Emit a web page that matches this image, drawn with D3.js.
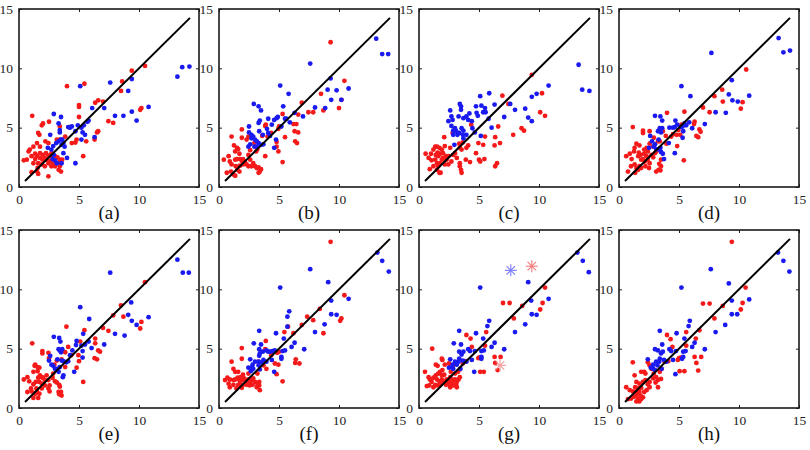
<!DOCTYPE html>
<html><head><meta charset="utf-8">
<script src="https://cdn.jsdelivr.net/npm/d3@7"></script>
<style>body{margin:0;background:#fff} text{font-family:"Liberation Serif","Times New Roman","DejaVu Serif",serif !important;}</style>
</head><body><svg id="c" width="810" height="450"></svg>
<script>
const panelLabels = ["(a)","(b)","(c)","(d)","(e)","(f)","(g)","(h)"];
const tickValues = [0,5,10,15];
const lineRange = [0.5,14.25];

const blueA=[[14.2,10.15],[13.6,10.1],[13.2,9.3],[9.4,9.1],[9.1,8.1],[7.6,8.8],[5.1,8.5],[10.8,6.75],[9.8,5.6],[9.4,6.35],[8.7,6.0],[8.0,6.0],[7.1,6.65],[6.1,6.65],[6.3,4.2],[5.8,5.6],[5.7,5.5],[5.4,5.2],[5.3,4.6],[5.5,4.4],[5.2,5.0],[4.9,5.2],[4.7,4.7],[4.4,5.1],[4.25,5.0],[4.1,5.05],[5.2,4.0],[4.7,2.0],[2.9,6.15],[3.5,5.9],[3.3,5.35],[3.4,4.8],[3.4,4.6],[3.6,4.0],[3.5,4.0],[3.3,3.85],[3.1,3.7],[3.7,3.7],[3.55,3.55],[3.8,3.4],[2.85,3.45],[2.7,3.15],[2.4,3.3],[2.6,4.4],[2.9,2.7],[2.8,2.35],[3.0,2.25],[3.55,2.0],[4.0,2.45],[3.7,2.85],[3.15,2.0]];
const redA=[[10.5,10.2],[9.4,9.8],[8.6,8.9],[4.0,8.5],[5.45,8.7],[8.5,8.1],[5.0,6.9],[5.0,6.75],[6.6,7.3],[7.0,7.2],[6.35,7.1],[10.2,6.65],[10.1,6.5],[7.45,5.55],[7.85,5.4],[6.6,4.7],[6.5,4.6],[6.3,4.0],[5.6,3.85],[5.0,5.9],[4.8,4.0],[4.7,3.75],[4.4,3.7],[5.35,2.6],[3.85,4.25],[4.2,5.05],[3.4,5.1],[3.4,4.0],[3.15,4.0],[1.1,6.0],[2.0,5.35],[1.9,5.2],[2.5,5.5],[1.6,4.55],[1.7,4.4],[1.5,3.7],[1.75,3.4],[2.2,3.85],[2.45,3.7],[1.2,3.4],[0.9,3.15],[0.8,3.0],[0.65,2.3],[0.4,2.25],[1.05,2.6],[1.35,2.8],[1.5,2.6],[1.75,2.85],[2.0,2.7],[2.25,2.85],[2.45,2.65],[2.6,2.6],[2.7,2.85],[3.0,2.6],[3.2,2.5],[3.4,2.3],[3.6,2.3],[3.35,2.0],[3.4,1.75],[3.3,1.45],[3.5,1.3],[3.0,1.75],[2.45,2.0],[2.6,2.2],[2.45,0.9],[2.15,1.75],[1.9,1.9],[1.6,2.0],[1.55,1.6],[1.5,1.3],[1.6,1.1],[1.05,1.25],[1.95,2.3],[2.15,2.45],[2.3,2.3],[1.75,2.45],[1.2,2.0],[1.35,2.35],[2.7,1.75],[2.85,2.0]];

const blueB=[[13.1,12.5],[13.6,11.2],[14.1,11.2],[7.6,10.4],[9.3,9.15],[9.05,8.2],[9.8,8.15],[10.8,8.3],[9.35,7.35],[10.2,7.35],[5.1,8.55],[5.8,7.85],[8.0,6.7],[8.85,6.65],[7.0,5.95],[5.35,6.8],[3.3,6.8],[3.5,6.45],[2.9,7.0],[4.8,5.8],[4.9,5.9],[4.6,5.65],[4.1,5.75],[4.0,4.9],[4.4,5.25],[5.5,5.75],[5.6,5.75],[5.9,5.45],[5.2,5.1],[6.3,6.25],[3.4,5.6],[3.3,5.4],[3.35,4.7],[2.5,5.1],[2.5,4.6],[2.7,4.4],[2.85,4.25],[3.0,4.0],[3.15,3.85],[2.7,4.1],[3.3,3.7],[3.5,3.55],[3.7,3.6],[3.65,4.4],[4.1,4.55],[4.25,4.3],[4.75,4.0],[4.6,3.3],[2.6,3.6],[2.95,3.4],[2.45,3.4],[3.15,3.4]];
const redB=[[9.3,12.2],[10.45,8.95],[8.5,7.85],[10.2,7.35],[10.0,6.65],[8.7,6.45],[7.45,6.3],[7.85,6.3],[6.9,7.1],[6.6,6.1],[6.2,5.3],[6.45,5.3],[6.3,4.7],[6.6,4.6],[6.35,3.85],[6.5,3.7],[5.3,6.15],[5.0,5.1],[4.95,4.9],[5.5,4.2],[5.3,2.1],[4.8,3.8],[4.8,3.4],[4.95,3.0],[3.9,5.25],[3.85,5.15],[4.05,4.25],[4.35,4.55],[3.85,2.6],[3.6,4.3],[2.95,3.7],[3.2,3.2],[3.1,3.0],[2.3,4.0],[2.45,4.25],[1.9,4.85],[1.9,4.15],[1.05,4.25],[1.25,3.5],[1.5,3.3],[1.35,3.0],[1.6,3.2],[1.7,2.8],[2.6,3.1],[2.45,2.7],[2.6,2.3],[0.4,2.3],[0.8,2.6],[0.9,2.15],[1.05,1.9],[0.65,1.2],[1.0,1.3],[1.2,1.05],[1.4,1.75],[1.35,2.3],[1.5,2.35],[1.75,2.35],[1.9,2.2],[2.0,2.35],[2.15,2.15],[2.0,1.9],[1.75,1.8],[1.55,1.45],[1.7,1.3],[1.35,0.95],[2.3,1.9],[2.45,1.75],[2.7,1.75],[3.0,1.75],[3.15,1.6],[3.3,1.65],[3.4,1.3],[3.5,1.5],[2.85,2.0],[3.3,1.2]];

const blueC=[[13.3,10.3],[13.6,8.2],[14.2,8.1],[10.8,8.55],[9.8,7.85],[9.4,7.6],[9.4,5.55],[9.1,5.85],[8.85,6.6],[8.0,6.5],[7.6,7.0],[7.1,5.9],[6.3,6.95],[6.05,5.0],[5.85,7.9],[5.8,5.75],[5.1,7.65],[5.2,6.85],[5.5,6.65],[5.35,6.3],[5.55,6.3],[5.15,4.3],[4.75,6.8],[4.9,6.0],[4.8,6.25],[4.65,4.6],[4.45,4.95],[4.4,5.55],[4.1,5.65],[4.2,6.2],[3.95,5.95],[3.7,5.8],[3.4,7.0],[3.5,6.8],[3.5,6.5],[3.3,5.95],[2.7,5.95],[2.6,6.45],[2.45,5.55],[2.8,5.65],[2.7,5.15],[3.0,4.95],[2.85,4.75],[3.1,4.7],[3.35,4.55],[3.55,4.95],[3.7,4.75],[3.65,4.4],[3.2,4.4],[2.85,4.4],[3.7,4.1],[2.95,3.55],[3.95,4.4]];
const redC=[[9.4,9.45],[10.25,7.9],[10.1,6.3],[10.5,6.0],[6.95,7.7],[7.45,7.0],[8.55,4.95],[8.75,4.75],[7.85,4.4],[6.6,5.1],[6.35,4.2],[6.75,3.7],[6.3,3.5],[6.5,2.0],[6.35,1.75],[5.5,4.25],[5.35,3.55],[4.95,3.7],[5.45,2.35],[5.0,2.3],[5.1,2.15],[4.75,2.85],[4.35,5.25],[4.25,2.1],[3.9,2.3],[4.1,3.5],[3.95,3.3],[3.65,3.75],[3.35,3.65],[3.4,3.3],[3.55,3.15],[3.4,1.75],[3.5,1.45],[3.55,1.2],[3.4,2.0],[2.8,4.55],[2.1,4.2],[2.15,3.45],[2.6,3.3],[2.85,2.7],[3.0,2.85],[3.15,2.45],[2.7,2.15],[2.45,2.6],[2.3,2.3],[2.0,2.85],[1.9,3.15],[1.7,3.3],[1.5,3.4],[1.35,3.4],[1.2,3.15],[1.55,2.9],[1.75,2.8],[1.0,2.8],[0.55,2.8],[0.8,2.45],[1.05,2.25],[1.35,2.3],[1.5,2.0],[1.75,2.0],[1.9,2.3],[2.0,2.45],[1.6,1.75],[1.2,1.75],[0.9,1.5],[1.5,1.45],[1.7,1.2],[1.8,1.2],[2.15,1.9],[2.45,1.9],[1.6,2.6],[1.4,2.7],[2.25,2.6]];

const blueD=[[13.3,12.55],[13.7,11.35],[14.25,11.5],[7.7,11.3],[9.4,9.0],[9.15,7.8],[9.45,7.3],[9.9,7.2],[10.85,7.7],[8.9,6.25],[8.05,6.3],[7.15,5.3],[5.2,8.5],[5.95,7.65],[6.1,4.95],[5.85,5.45],[5.45,5.35],[5.6,5.2],[5.3,5.1],[5.15,5.05],[5.3,4.15],[5.35,4.7],[4.7,5.6],[4.85,5.25],[4.65,5.05],[4.5,5.0],[4.2,5.0],[4.65,2.85],[4.15,3.7],[3.0,6.0],[3.45,5.95],[3.6,5.6],[3.4,4.95],[3.6,4.95],[3.4,4.75],[3.5,4.6],[3.25,4.7],[2.6,4.3],[2.5,3.3],[2.9,3.4],[3.0,3.6],[2.75,3.85],[3.3,4.0],[3.1,3.2],[3.5,2.95],[3.65,2.8],[3.75,2.35],[3.45,3.3],[3.35,3.15]];
const redD=[[10.6,9.9],[8.6,8.2],[7.95,7.65],[8.65,7.2],[10.15,6.6],[10.3,7.15],[7.0,6.7],[7.55,6.3],[5.45,6.35],[6.3,5.5],[6.25,5.3],[6.7,4.85],[6.8,4.65],[6.45,4.3],[6.6,4.2],[5.4,2.25],[5.2,5.25],[4.95,4.8],[4.8,4.4],[5.1,4.4],[4.85,3.45],[4.5,4.45],[4.35,4.25],[4.0,6.25],[3.65,4.7],[3.9,4.3],[3.95,3.65],[3.25,3.85],[2.9,4.15],[2.55,4.7],[2.55,3.65],[2.0,4.75],[2.0,4.55],[1.15,5.05],[1.45,3.65],[1.7,3.5],[1.3,3.3],[0.9,2.8],[0.6,2.6],[1.05,2.35],[0.75,1.3],[1.0,1.75],[1.3,1.9],[1.35,1.2],[1.6,1.45],[1.7,1.75],[1.85,2.3],[1.6,2.6],[1.8,2.7],[2.1,2.8],[2.3,2.6],[2.0,2.35],[2.15,2.15],[2.4,2.3],[2.55,2.0],[2.5,1.6],[2.7,2.7],[2.85,2.5],[3.0,2.85],[3.1,3.0],[2.4,3.0],[3.5,2.3],[3.35,1.95],[3.5,1.75],[3.3,1.45],[3.45,1.4],[3.1,1.3],[2.2,1.75],[1.85,1.6],[1.45,1.6],[1.65,2.9],[1.25,3.0],[2.3,3.3],[2.1,3.15],[2.85,3.4],[3.4,3.85]];

const blueE=[[13.2,12.5],[13.65,11.4],[14.15,11.4],[7.6,11.4],[9.35,8.9],[9.1,7.85],[9.4,7.35],[9.8,7.0],[10.8,7.65],[8.8,6.1],[8.0,6.25],[7.1,5.35],[5.1,8.5],[5.85,7.5],[6.05,5.05],[5.8,5.6],[5.35,6.25],[5.5,5.35],[5.2,5.25],[5.3,4.8],[5.3,4.25],[4.8,5.65],[4.75,5.3],[4.45,4.85],[4.25,4.45],[4.1,3.95],[4.6,3.05],[2.9,6.0],[3.35,5.9],[3.45,5.6],[3.3,4.95],[3.4,4.85],[3.5,4.7],[3.6,4.95],[3.2,4.1],[2.6,4.4],[2.5,4.0],[2.7,3.65],[2.85,3.55],[3.0,3.3],[3.2,3.3],[3.4,3.45],[3.55,4.0],[3.7,3.95],[3.7,2.75],[3.65,2.6],[3.3,3.05],[3.95,3.85]];
const redE=[[10.5,10.6],[8.5,8.65],[7.85,7.8],[8.7,7.7],[10.2,7.25],[10.1,6.7],[7.0,6.75],[7.45,6.5],[6.35,5.85],[6.35,5.45],[6.6,4.85],[6.75,4.75],[6.3,4.2],[6.5,4.1],[5.45,6.55],[5.35,2.2],[5.1,5.6],[4.95,4.45],[5.0,3.95],[4.8,3.4],[3.95,6.85],[4.1,5.15],[3.85,4.7],[4.35,4.45],[3.55,4.1],[3.85,3.45],[3.15,4.0],[2.95,3.65],[2.45,4.65],[2.5,4.2],[1.95,4.8],[1.95,4.6],[1.1,5.45],[1.35,3.65],[1.3,3.55],[1.55,3.45],[1.2,3.05],[1.55,3.1],[1.7,3.4],[0.7,2.6],[0.4,2.4],[0.85,2.25],[0.7,1.35],[1.05,1.4],[1.0,1.65],[1.2,2.0],[1.4,2.2],[1.6,2.55],[1.75,2.75],[1.9,2.6],[2.0,2.55],[1.7,2.2],[1.9,2.05],[2.15,2.35],[2.3,2.75],[2.45,2.35],[2.55,1.9],[2.45,1.65],[2.55,1.4],[2.8,2.55],[2.85,2.9],[3.0,2.25],[3.15,2.15],[3.35,1.95],[3.4,1.8],[3.3,1.35],[3.5,1.35],[3.35,1.15],[3.55,1.05],[1.35,1.2],[1.5,1.35],[1.7,1.2],[1.6,0.85],[1.2,0.85],[2.15,1.9],[1.45,1.65],[1.9,1.65]];

const blueF=[[13.2,13.1],[13.6,12.4],[14.15,11.5],[7.6,11.7],[5.1,10.15],[9.1,10.6],[9.35,9.05],[10.8,9.2],[9.35,7.9],[9.8,7.85],[8.8,7.05],[8.0,6.4],[7.1,4.95],[5.85,8.15],[5.7,7.7],[5.7,6.85],[5.4,5.85],[6.3,5.5],[6.05,5.15],[5.5,4.85],[5.3,4.8],[5.2,4.3],[5.2,4.15],[4.75,6.3],[4.65,4.85],[4.45,4.8],[4.25,4.75],[3.95,4.85],[4.1,4.75],[4.4,4.05],[4.6,3.05],[3.35,6.5],[2.9,5.45],[3.5,5.35],[3.35,4.95],[3.4,4.6],[3.65,4.75],[3.35,4.4],[3.7,4.05],[3.55,3.85],[3.3,3.9],[3.0,3.9],[2.8,3.65],[2.6,4.1],[2.45,3.4],[2.75,3.45],[2.85,3.3],[2.65,3.1],[3.4,3.25],[3.3,3.6],[3.95,3.9]];
const redF=[[9.3,14.0],[10.45,9.5],[8.4,8.35],[7.85,7.4],[7.35,7.7],[10.2,7.55],[10.1,7.35],[8.7,6.3],[6.9,7.0],[6.2,6.3],[5.75,6.85],[5.45,6.4],[6.4,4.1],[6.35,3.8],[6.7,3.75],[5.3,2.25],[5.0,4.75],[4.85,4.65],[4.65,3.75],[4.95,3.65],[4.8,2.85],[3.9,5.65],[3.85,4.95],[4.35,4.45],[3.95,3.3],[3.7,3.6],[3.3,3.9],[3.2,2.9],[1.9,5.05],[1.9,4.15],[1.05,3.9],[1.2,3.3],[1.35,3.05],[1.6,3.05],[2.0,2.8],[2.45,2.9],[0.5,2.35],[0.7,2.55],[0.9,2.4],[0.8,2.05],[0.9,1.75],[1.2,1.95],[1.35,2.4],[1.55,2.55],[1.7,2.35],[1.8,2.6],[1.95,2.35],[2.1,2.5],[2.25,2.25],[2.45,2.4],[2.6,2.2],[2.7,2.35],[2.85,2.5],[3.0,2.2],[3.2,2.05],[3.35,2.2],[3.15,1.75],[3.4,1.5],[3.35,1.9],[1.6,1.95],[1.45,1.65],[1.9,1.7],[2.0,1.95],[2.3,1.95],[2.55,1.9],[2.8,1.95],[1.75,2.05],[1.2,2.35]];

const blueG=[[13.2,13.1],[13.65,12.4],[14.15,11.45],[5.1,10.15],[9.1,10.6],[9.35,9.05],[10.8,9.2],[9.4,7.9],[9.8,7.85],[8.85,7.05],[8.0,6.4],[7.1,4.95],[5.85,7.35],[5.7,6.9],[5.35,5.85],[6.3,5.5],[6.05,5.15],[5.4,4.85],[5.2,4.8],[5.2,4.3],[5.2,4.15],[4.75,6.3],[4.65,4.8],[4.25,4.8],[4.1,4.95],[4.4,4.05],[4.6,3.05],[3.35,6.5],[2.9,5.45],[3.5,5.35],[3.35,4.75],[3.55,4.5],[3.7,4.75],[3.35,4.15],[3.65,4.0],[3.3,3.9],[3.0,3.9],[2.8,3.65],[2.6,4.1],[2.5,3.4],[2.75,3.45],[2.85,3.3],[3.45,3.3],[3.95,3.9],[3.15,3.65]];
const redG=[[10.5,10.15],[7.0,8.85],[7.55,8.85],[8.6,8.6],[10.3,8.85],[10.1,8.3],[7.9,7.55],[5.6,6.4],[5.5,5.25],[6.3,4.3],[6.8,4.3],[6.35,3.8],[6.55,3.2],[5.4,3.05],[5.1,3.05],[3.95,6.15],[4.3,5.85],[5.0,4.25],[4.95,4.2],[5.15,4.25],[4.4,5.15],[3.9,3.95],[3.65,3.75],[3.4,3.25],[1.1,5.0],[1.9,4.15],[1.95,4.05],[1.4,3.65],[1.55,3.55],[2.15,3.65],[2.5,3.75],[2.85,3.6],[2.65,3.05],[3.0,2.9],[3.25,3.05],[0.5,3.05],[0.8,2.6],[0.9,2.4],[0.65,1.85],[0.85,1.9],[1.05,2.2],[1.2,2.55],[1.4,2.75],[1.6,2.9],[1.75,3.05],[1.95,3.2],[1.9,2.75],[2.1,2.8],[1.5,2.4],[1.7,2.25],[1.9,2.4],[2.0,2.2],[2.3,2.4],[2.45,2.2],[2.6,2.6],[2.7,2.4],[2.8,2.2],[3.0,2.4],[3.15,2.2],[3.3,2.4],[3.4,2.6],[3.1,1.95],[3.15,1.75],[1.35,1.95],[1.2,1.75],[1.5,1.9],[1.75,1.95],[2.55,1.95],[2.6,1.75],[2.85,1.9],[2.25,1.95]];
const starsG=[{x:7.65,y:11.6,c:"#7b7bff"},{x:9.4,y:11.95,c:"#f47a7a"},{x:6.75,y:3.6,c:"#f59a9a"}];

const blueH=[[13.25,13.1],[13.7,12.4],[14.2,11.5],[7.65,11.7],[5.2,10.15],[9.15,10.5],[9.4,9.05],[10.85,9.15],[9.4,7.9],[9.85,7.9],[8.85,7.0],[8.05,6.4],[7.15,4.95],[5.9,7.35],[5.8,6.9],[5.45,5.85],[6.3,5.5],[6.1,5.15],[5.55,4.8],[5.35,4.75],[5.35,4.3],[5.25,4.15],[4.8,6.3],[4.75,4.8],[4.35,4.8],[4.2,4.95],[4.5,4.05],[4.7,2.85],[3.4,6.5],[3.0,4.95],[3.6,5.35],[3.5,4.6],[3.65,4.75],[3.25,4.85],[3.4,4.15],[3.75,4.05],[3.35,3.9],[3.1,3.9],[2.85,3.65],[2.4,4.1],[2.65,3.4],[2.85,3.3],[3.0,3.2],[3.55,3.3],[3.95,3.9],[3.2,3.6]];
const redH=[[9.4,14.0],[10.55,10.15],[7.0,8.8],[7.55,8.8],[8.65,8.6],[10.3,8.85],[10.15,8.3],[7.95,7.55],[5.6,6.4],[6.7,6.55],[5.6,5.25],[6.4,5.85],[6.3,4.3],[6.45,3.8],[6.6,3.15],[6.85,4.3],[5.45,3.1],[5.05,3.1],[4.0,6.15],[4.3,5.8],[5.15,4.25],[5.0,4.2],[4.9,4.05],[4.45,5.15],[4.1,3.95],[3.8,3.9],[3.55,3.3],[1.15,3.85],[1.85,3.05],[2.1,3.05],[2.2,2.9],[1.3,2.75],[2.4,3.85],[2.55,3.6],[2.7,3.3],[2.9,2.9],[2.85,2.5],[3.1,2.6],[3.4,3.05],[3.25,2.35],[3.5,2.45],[3.05,2.15],[3.25,1.75],[2.55,2.2],[2.4,2.0],[2.2,2.35],[2.0,2.2],[1.7,2.05],[1.45,2.2],[1.35,1.75],[1.6,1.65],[1.85,1.7],[1.7,1.35],[1.6,1.2],[1.8,1.05],[1.45,1.05],[1.25,0.95],[1.0,0.8],[0.75,0.75],[1.6,0.75],[1.85,0.75],[1.7,0.55],[1.45,0.55],[0.6,1.75],[0.9,1.5],[1.15,1.4],[2.1,1.35],[2.3,1.5],[2.55,1.75],[1.35,1.35],[2.0,0.9]];

const blueSeries=[blueA,blueB,blueC,blueD,blueE,blueF,blueG,blueH];
const redSeries=[redA,redB,redC,redD,redE,redF,redG,redH];

const svg=d3.select("#c");
const W=180,H=178;
const font='"Liberation Serif","Times New Roman","DejaVu Serif",serif';
panelLabels.forEach((lab,i)=>{
  const col=i%4,row=Math.floor(i/4);
  const left=19+200*col, top=row===0?9:230;
  const x=d3.scaleLinear().domain([0,15]).range([0,W]);
  const y=d3.scaleLinear().domain([0,15]).range([H,0]);
  const g=svg.append("g").attr("transform",`translate(${left},${top})`);
  g.append("rect").attr("width",W).attr("height",H).attr("fill","#fff");
  g.append("g").selectAll("circle").data(redSeries[i]).join("circle")
    .attr("cx",d=>x(d[0])).attr("cy",d=>y(d[1])).attr("r",2.4).attr("fill","#f51a1a");
  g.append("g").selectAll("circle").data(blueSeries[i]).join("circle")
    .attr("cx",d=>x(d[0])).attr("cy",d=>y(d[1])).attr("r",2.4).attr("fill","#1a1af0");
  if(i===6){
    starsG.forEach(s=>{
      const sg=g.append("g").attr("transform",`translate(${x(s.x)},${y(s.y)})`);
      for(let k=0;k<4;k++){
        const a=k*Math.PI/4, r=6;
        sg.append("line").attr("x1",-r*Math.cos(a)).attr("y1",-r*Math.sin(a))
          .attr("x2",r*Math.cos(a)).attr("y2",r*Math.sin(a))
          .attr("stroke",s.c).attr("stroke-width",1.1);
      }
    });
  }
  g.append("line").attr("x1",x(lineRange[0])).attr("y1",y(lineRange[0]))
    .attr("x2",x(lineRange[1])).attr("y2",y(lineRange[1]))
    .attr("stroke","#000").attr("stroke-width",2);
  const xa=d3.axisBottom(x).tickValues(tickValues).tickSize(-3).tickPadding(7).tickFormat(d3.format("d"));
  const ya=d3.axisLeft(y).tickValues(tickValues).tickSize(-3).tickPadding(6).tickFormat(d3.format("d"));
  const xt=d3.axisTop(x).tickValues(tickValues).tickSize(-3).tickFormat("");
  const yr=d3.axisRight(y).tickValues(tickValues).tickSize(-3).tickFormat("");
  const gx=g.append("g").attr("transform",`translate(0,${H})`).call(xa);
  const gy=g.append("g").call(ya);
  const gt=g.append("g").call(xt);
  const gr=g.append("g").attr("transform",`translate(${W},0)`).call(yr);
  [gx,gy,gt,gr].forEach(a=>{a.attr("font-family",null);a.select(".domain").remove();a.selectAll("line").attr("stroke","#222").attr("stroke-width",1);
    a.selectAll("text").style("font-family",font).attr("font-size",13.5).attr("fill","#222");});
  g.append("rect").attr("width",W).attr("height",H).attr("fill","none").attr("stroke","#1a1a1a").attr("stroke-width",1.6);
  svg.append("text").attr("x",left+W/2).attr("y",row===0?219:440).attr("text-anchor","middle")
    .style("font-family",font).attr("font-size",19).attr("fill","#111").text(lab);
});
</script></body></html>
